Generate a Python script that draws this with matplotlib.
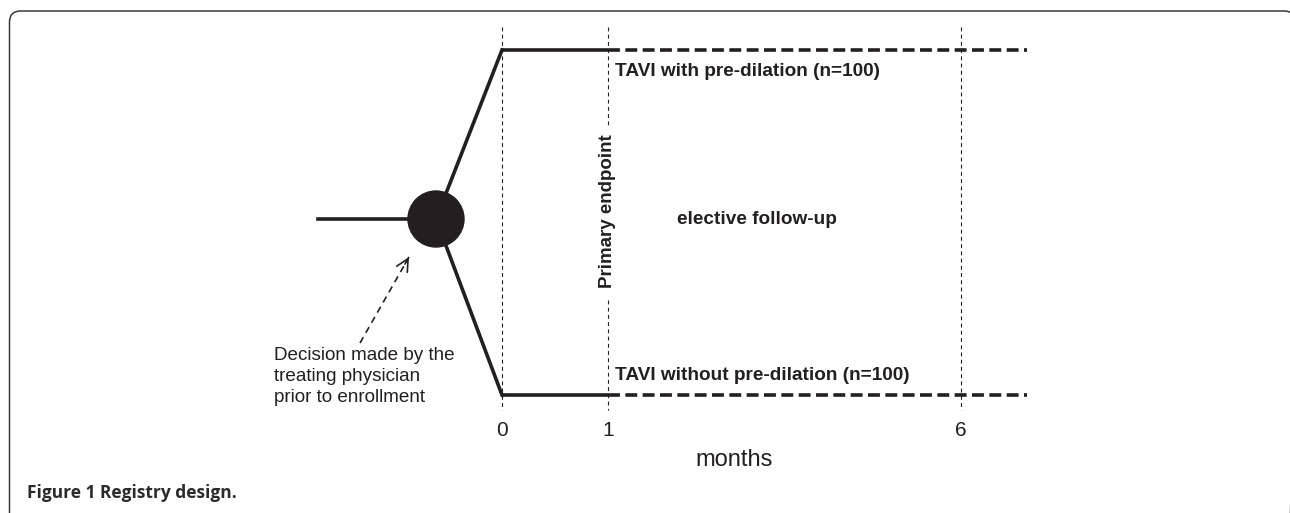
import matplotlib
matplotlib.use("Agg")
import matplotlib.pyplot as plt
from matplotlib.patches import Circle, FancyBboxPatch

plt.rcParams["font.family"] = ["Liberation Sans", "DejaVu Sans"]
INK = "#231f20"

# schematic layout (pixel-like units, y down)
month_labels = ["0", "1", "6"]
month_x = [502, 608, 961]
arm_y = [50, 395]
arm_names = ["TAVI with pre-dilation (n=100)", "TAVI without pre-dilation (n=100)"]
arm_end_x = 1027
node_xy = (436, 219)
node_r = 28
input_x0 = 318
arrow_tail = (360, 343)
arrow_tip = (409, 257)

fig = plt.figure(figsize=(12.9, 5.13), dpi=100)
ax = fig.add_axes([0, 0, 1, 1])
ax.set_xlim(0, 1290)
ax.set_ylim(513, 0)
ax.axis("off")

# rounded frame (bottom and right run off the picture)
ax.add_patch(FancyBboxPatch((9.5, 11), 1286, 560, boxstyle="round,pad=0,rounding_size=11",
                            fill=False, ec="#3a3a3a", lw=1.1, zorder=1))

# thin dashed time markers
for mx in month_x:
    if mx == month_x[1]:
        # break the line for the rotated label
        ax.plot([mx, mx], [27, 126], color=INK, lw=0.8, ls=(0, (3.5, 3)), zorder=2)
        ax.plot([mx, mx], [300, 410], color=INK, lw=0.8, ls=(0, (3.5, 3)), zorder=2)
    else:
        ax.plot([mx, mx], [27, 410], color=INK, lw=0.8, ls=(0, (3.5, 3)), zorder=2)

# input line and branches
ax.plot([input_x0, node_xy[0]], [node_xy[1], node_xy[1]], color=INK, lw=2.6, zorder=3)
for ay in arm_y:
    ax.plot([node_xy[0], month_x[0]], [node_xy[1], ay], color=INK, lw=2.6, zorder=3,
            solid_joinstyle="miter")
    ax.plot([month_x[0], month_x[1]], [ay, ay], color=INK, lw=2.6, zorder=3, solid_capstyle="butt")
    ax.plot([month_x[1], arm_end_x], [ay, ay], color=INK, lw=2.6, ls=(0, (3.3, 1.5)), zorder=3)
ax.add_patch(Circle(node_xy, node_r, color=INK, zorder=4))

# arm labels
ax.text(615, arm_y[0] + 22, arm_names[0], fontsize=13.7, fontweight="bold", color=INK,
        ha="left", va="center")
ax.text(615, arm_y[1] - 20, arm_names[1], fontsize=13.7, fontweight="bold", color=INK,
        ha="left", va="center")

ax.text(month_x[1], 211, "Primary endpoint", rotation=90, fontsize=13.5, fontweight="bold",
        color=INK, ha="center", va="center")
ax.text(757, 220, "elective follow-up", fontsize=13.7, fontweight="bold", color=INK,
        ha="center", va="center")

# decision note + dashed arrow (dashed shaft, solid open head)
ax.plot([arrow_tail[0], arrow_tip[0]], [arrow_tail[1], arrow_tip[1]], color=INK, lw=1.2,
        ls=(0, (4, 3)), zorder=3)
ax.annotate("", xy=arrow_tip, xytext=(arrow_tip[0] - 4, arrow_tip[1] + 7),
            arrowprops=dict(arrowstyle="->", color=INK, lw=1.2, mutation_scale=22,
                            shrinkA=0, shrinkB=0))
ax.text(274, 347, "Decision made by the\ntreating physician\nprior to enrollment",
        fontsize=13.6, color=INK, ha="left", va="top", linespacing=1.32)

# time axis
for mx, lab in zip(month_x, month_labels):
    ax.text(mx, 431, lab, fontsize=15, color=INK, ha="center", va="center")
ax.text(734, 460, "months", fontsize=17, color=INK, ha="center", va="center")

# caption
ax.text(27, 493, "Figure 1 Registry design.", fontsize=12.5, fontweight="bold", color="#2b2b2b",
        family=["Open Sans", "DejaVu Sans"], ha="left", va="center")

fig.savefig("out.png", dpi=100, facecolor="white")
